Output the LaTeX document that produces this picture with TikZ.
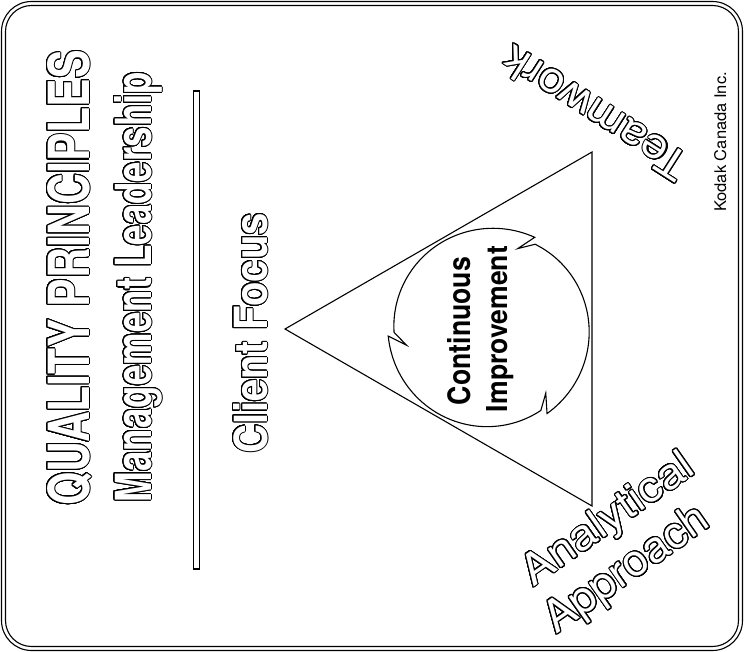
\documentclass[tikz,border=0pt]{standalone}
\usepackage{fontspec}
\setmainfont{TeX Gyre Heros}
\usepackage{graphicx}
\usepackage{contour}
\contourlength{1pt}
\contournumber{32}
\newcommand{\otext}[3]{\contour{black}{\resizebox{#1}{#2}{#3}}}
\tikzset{
  olabel/.style={inner sep=0pt, text=white},
  plabel/.style={inner sep=0pt, text=black},
  frameline/.style={line width=1.1pt},
  shapeline/.style={line width=1.1pt, line join=miter},
}
\begin{document}
\begin{tikzpicture}[x=1pt,y=-1pt]
\fill[white] (0,0) rectangle (744,652);
\useasboundingbox (0,0) rectangle (744,652);
% double rounded frame
\draw[frameline, rounded corners=30pt] (1.5,1.5) rectangle (742.5,650.5);
\draw[frameline, rounded corners=26pt] (5.5,5.5) rectangle (738.5,646.5);
% narrow hollow bar
\draw[line width=1.3pt] (193.5,91) rectangle (199.5,569);
% triangle
\draw[shapeline] (285,329) -- (592,152) -- (592,506) -- cycle;
% circular arrows
\draw[line width=1.1pt, line join=miter]
  plot[domain=64:182, samples=50] ({490+(102-6*(\x-64)/118)*cos(\x)}, {329-(102-6*(\x-64)/118)*sin(\x)})
  -- ({490+85*cos(191)}, {329-85*sin(191)})
  -- plot[domain=184:302, samples=50] ({490+(102-6*(\x-184)/118)*cos(\x)}, {329-(102-6*(\x-184)/118)*sin(\x)})
  -- ({490+85*cos(311)}, {329-85*sin(311)})
  -- plot[domain=304:422, samples=50] ({490+(102-6*(\x-304)/118)*cos(\x)}, {329-(102-6*(\x-304)/118)*sin(\x)})
  -- ({490+85*cos(71)}, {329-85*sin(71)})
  -- cycle;
% texts
\node[olabel, rotate=90, anchor=base] (title) at (89,278) {\otext{455pt}{42pt}{\bfseries QUALITY PRINCIPLES}};
\node[olabel, rotate=90, anchor=base] (mgmt) at (151,287) {\otext{430pt}{37pt}{\bfseries Management Leadership}};
\node[olabel, rotate=90, anchor=base] (client) at (267,333) {\otext{240pt}{34pt}{\bfseries Client Focus}};
\node[plabel, rotate=90, anchor=base] (cont) at (470,331) {\resizebox{148pt}{23pt}{\bfseries Continuous}};
\node[plabel, rotate=90, anchor=base] (impr) at (507,329) {\resizebox{166pt}{21pt}{\bfseries Improvement}};
\node[plabel, rotate=90, anchor=base] (kodak) at (726,142) {\resizebox{140pt}{12pt}{Kodak Canada Inc.}};
\node[olabel, rotate=147.4] (team) at (595,113) {\otext{212pt}{31pt}{Teamwork}};
\node[olabel, rotate=35, anchor=base] (anal) at (615,530) {\otext{200pt}{31pt}{Analytical}};
\node[olabel, rotate=35, anchor=base] (appr) at (634,580) {\otext{190pt}{32pt}{Approach}};
\end{tikzpicture}
\end{document}
